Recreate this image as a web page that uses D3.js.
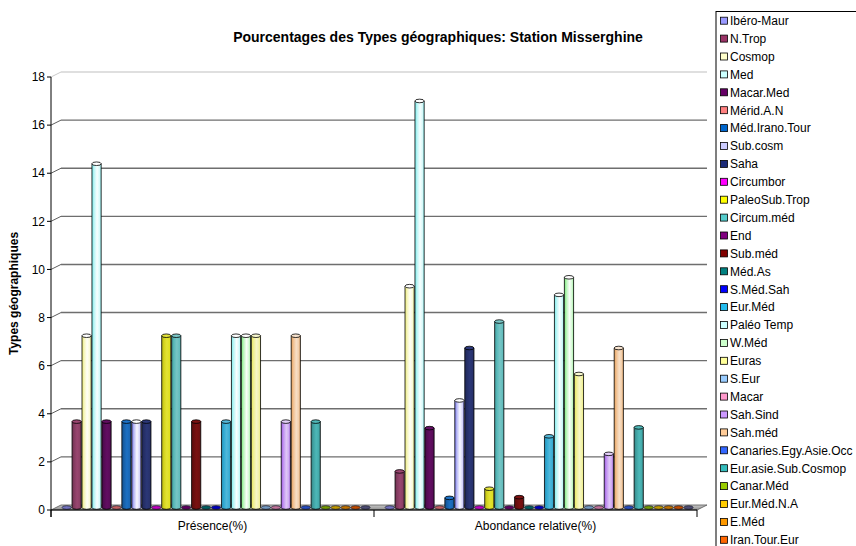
<!DOCTYPE html>
<html>
<head>
<meta charset="utf-8">
<script src="https://cdn.jsdelivr.net/npm/d3@7"></script>
<style>
  html, body { margin: 0; padding: 0; background: #fff; overflow: hidden; }
  svg { display: block; font-family: Arial, "Liberation Sans", sans-serif; }
</style>
</head>
<body>
<svg id="chart" width="856" height="546"></svg>
<script>
// Categories on the x axis
const categories = ["Présence(%)", "Abondance relative(%)"];

// Geographic types (series), in legend order
const seriesNames = [
  "Ibéro-Maur", "N.Trop", "Cosmop", "Med", "Macar.Med", "Mérid.A.N",
  "Méd.Irano.Tour", "Sub.cosm", "Saha", "Circumbor", "PaleoSub.Trop",
  "Circum.méd", "End", "Sub.méd", "Méd.As", "S.Méd.Sah", "Eur.Méd",
  "Paléo Temp", "W.Méd", "Euras", "S.Eur", "Macar", "Sah.Sind", "Sah.méd",
  "Canaries.Egy.Asie.Occ", "Eur.asie.Sub.Cosmop", "Canar.Méd",
  "Eur.Méd.N.A", "E.Méd", "Iran.Tour.Eur", "Atl.Méd"
];

// Values per series: presence (%)
const presence = [
  0, 3.57, 7.14, 14.29, 3.57, 0,
  3.57, 3.57, 3.57, 0, 7.14,
  7.14, 0, 3.57, 0, 0, 3.57,
  7.14, 7.14, 7.14, 0, 0, 3.57, 7.14,
  0, 3.57, 0,
  0, 0, 0, 0
];

// Values per series: relative abundance (%)
const abondance = [
  0, 1.5, 9.2, 16.9, 3.3, 0,
  0.4, 4.45, 6.63, 0, 0.78,
  7.73, 0, 0.43, 0, 0, 2.96,
  8.84, 9.57, 5.55, 0, 0, 2.23, 6.63,
  0, 3.33, 0,
  0, 0, 0, 0
];

// Y axis ticks
const yTicks = [0, 2, 4, 6, 8, 10, 12, 14, 16, 18];

// Series colours
const seriesColors = [
  "#9999FF", "#993366", "#FFFFCC", "#CCFFFF", "#660066", "#FF8080",
  "#0066CC", "#CCCCFF", "#1C2A78", "#FF00FF", "#FFFF00",
  "#55CCCC", "#800080", "#800000", "#008080", "#0000FF", "#22BBEE",
  "#CCFFFF", "#CCFFCC", "#FFFF99", "#99CCFF", "#FF99CC", "#CC99FF", "#FFCC99",
  "#3366FF", "#33BBBB", "#99CC00",
  "#FFCC00", "#FF9900", "#FF6600", "#666699"
];

const svg = d3.select("#chart");

// Plot geometry (front plane) and depth offset of the back wall
const plot = { left: 51, right: 697, top: 77, bottom: 510 };
const depth = { dx: 10, dy: -5 };

const y = d3.scaleLinear().domain([0, 18]).range([plot.bottom, plot.top]);
const x0 = d3.scaleBand().domain(categories).range([plot.left, plot.right]);
const x1 = d3.scaleBand().domain(seriesNames).range([5.7, x0.bandwidth() - 8.5]);

const defs = svg.append("defs");
seriesColors.forEach((c, i) => {
  const hsl = d3.hsl(d3.color(c));
  const soft = d3.hsl(hsl.h, hsl.s * 0.75, hsl.l);
  const g = defs.append("linearGradient").attr("id", "cyl" + i)
    .attr("x1", "0%").attr("x2", "100%").attr("y1", "0%").attr("y2", "0%");
  g.append("stop").attr("offset", "0%").attr("stop-color", soft.darker(0.7));
  g.append("stop").attr("offset", "25%").attr("stop-color", soft.darker(0.15));
  g.append("stop").attr("offset", "55%").attr("stop-color", soft.brighter(0.25));
  g.append("stop").attr("offset", "85%").attr("stop-color", soft);
  g.append("stop").attr("offset", "100%").attr("stop-color", soft.darker(0.6));
});
const floorGrad = defs.append("linearGradient").attr("id", "floorGrad")
  .attr("x1", "0").attr("x2", "0").attr("y1", "0").attr("y2", "1");
floorGrad.append("stop").attr("offset", "0%").attr("stop-color", "#c8c8c8");
floorGrad.append("stop").attr("offset", "100%").attr("stop-color", "#8c8c8c");

// Title
svg.append("text")
  .attr("x", 438).attr("y", 42)
  .attr("text-anchor", "middle")
  .attr("font-size", 14).attr("font-weight", "bold")
  .text("Pourcentages des Types géographiques: Station Misserghine");

// Back-wall gridlines and diagonal connectors to the axis
const grid = svg.append("g");
yTicks.filter(t => t > 0).forEach(t => {
  const col = t === 18 ? "#d4d4d4" : "#6e6e6e";
  grid.append("line")
    .attr("x1", plot.left + depth.dx).attr("x2", plot.right + depth.dx)
    .attr("y1", y(t) + depth.dy).attr("y2", y(t) + depth.dy)
    .attr("stroke", col).attr("stroke-width", 1.4);
  grid.append("line")
    .attr("x1", plot.left).attr("x2", plot.left + depth.dx)
    .attr("y1", y(t)).attr("y2", y(t) + depth.dy)
    .attr("stroke", t === 18 ? "#bbbbbb" : "#333").attr("stroke-width", 0.8);
});

// Floor
svg.append("path")
  .attr("d", d3.line()([
    [plot.left, plot.bottom],
    [plot.right, plot.bottom],
    [plot.right + depth.dx, plot.bottom + depth.dy],
    [plot.left + depth.dx, plot.bottom + depth.dy]
  ]) + "Z")
  .attr("fill", "url(#floorGrad)").attr("stroke", "#555").attr("stroke-width", 0.8);

// Cylinders
const cylW = 9.2, ry = 1.8;
const values = { "Présence(%)": presence, "Abondance relative(%)": abondance };
const bars = svg.append("g");
categories.forEach(cat => {
  seriesNames.forEach((name, i) => {
    const v = values[cat][i];
    const cx = x0(cat) + x1(name) + x1.bandwidth() / 2 + depth.dx / 2;
    const yb = y(0) + depth.dy / 2;
    const yt = y(v) + depth.dy / 2;
    const col = d3.color(seriesColors[i]);
    if (v <= 0) {
      bars.append("ellipse")
        .attr("cx", cx).attr("cy", yb).attr("rx", cylW / 2).attr("ry", ry)
        .attr("fill", col.darker(0.8)).attr("stroke", "#1a1a2a").attr("stroke-width", 0.7);
      return;
    }
    const g = bars.append("g");
    const l = cx - cylW / 2, r = cx + cylW / 2;
    g.append("path")
      .attr("d", `M${l},${yt} L${l},${yb} A${cylW / 2},${ry} 0 0 0 ${r},${yb} L${r},${yt} Z`)
      .attr("fill", `url(#cyl${i})`).attr("stroke", "#000").attr("stroke-width", 0.8);
    const hsl = d3.hsl(col);
    g.append("ellipse")
      .attr("cx", cx).attr("cy", yt).attr("rx", cylW / 2).attr("ry", ry)
      .attr("fill", d3.hsl(hsl.h, hsl.s * 0.75, hsl.l).brighter(0.3))
      .attr("stroke", "#000").attr("stroke-width", 0.8);
  });
});

// Y axis
const yAxis = svg.append("g");
yAxis.append("line")
  .attr("x1", plot.left).attr("x2", plot.left)
  .attr("y1", plot.top).attr("y2", plot.bottom + 7)
  .attr("stroke", "#000").attr("stroke-width", 1);
yTicks.forEach(t => {
  yAxis.append("line")
    .attr("x1", plot.left - 4).attr("x2", plot.left)
    .attr("y1", y(t)).attr("y2", y(t))
    .attr("stroke", "#000");
  yAxis.append("text")
    .attr("x", plot.left - 6).attr("y", y(t))
    .attr("dy", "0.35em").attr("text-anchor", "end")
    .attr("font-size", 12).text(t);
});

// X axis
const xAxis = svg.append("g");
xAxis.append("line")
  .attr("x1", plot.left).attr("x2", plot.right)
  .attr("y1", plot.bottom).attr("y2", plot.bottom)
  .attr("stroke", "#000");
[plot.left, ...categories.map(c => x0(c) + x0.bandwidth())].forEach(xv => {
  xAxis.append("line")
    .attr("x1", xv).attr("x2", xv)
    .attr("y1", plot.bottom).attr("y2", plot.bottom + 7)
    .attr("stroke", "#000");
});
categories.forEach(c => {
  xAxis.append("text")
    .attr("x", x0(c) + x0.bandwidth() / 2).attr("y", 530)
    .attr("text-anchor", "middle").attr("font-size", 12).text(c);
});

// Y axis title
svg.append("text")
  .attr("transform", `translate(18,${(plot.top + plot.bottom) / 2}) rotate(-90)`)
  .attr("text-anchor", "middle").attr("font-size", 12).attr("font-weight", "bold")
  .text("Types géographiques");

// Legend
const leg = { x: 716, y: 11.5, step: 17.9 };
const legend = svg.append("g");
legend.append("rect")
  .attr("x", leg.x).attr("y", leg.y)
  .attr("width", 160).attr("height", 600)
  .attr("fill", "#fff").attr("stroke", "#000").attr("stroke-width", 1);
seriesNames.forEach((name, i) => {
  const cy = leg.y + 9.2 + i * leg.step;
  legend.append("rect")
    .attr("x", leg.x + 4.5).attr("y", cy - 3.5)
    .attr("width", 7).attr("height", 7)
    .attr("fill", seriesColors[i]).attr("stroke", "#000").attr("stroke-width", 0.8);
  legend.append("text")
    .attr("x", leg.x + 14).attr("y", cy)
    .attr("dy", "0.36em").attr("font-size", 12).text(name);
});
</script>
</body>
</html>
